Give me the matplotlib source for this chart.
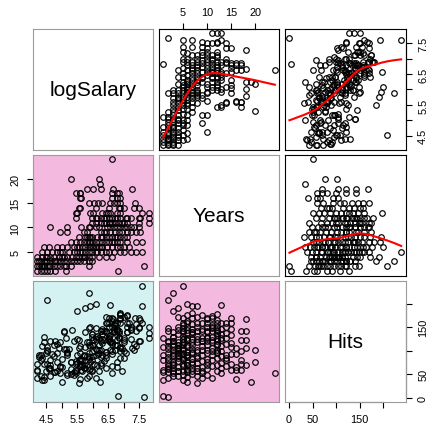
import matplotlib.pyplot as plt
import numpy as np

plt.rcParams['font.family'] = ['Liberation Sans', 'DejaVu Sans']

# Hitters data, grouped by Years
year_values = [1, 2, 3, 4, 5, 6, 7, 8, 9, 10, 11, 12, 13, 14, 15, 16, 17, 18, 19, 20, 24]
year_counts = [8, 17, 20, 21, 25, 24, 20, 17, 15, 17, 15, 18, 12, 9, 9, 5, 6, 5, 1, 2, 1]

log_salary = [
    4.20, 4.31, 4.41, 4.52, 4.63, 4.79, 5.12, 6.82,
    4.20, 4.25, 4.31, 4.41, 4.52, 4.63, 4.74, 4.85, 4.95, 5.06, 5.12, 5.28, 5.87, 7.66, 4.36, 4.58, 4.41,
    4.20, 4.31, 4.41, 4.52, 4.63, 4.74, 4.85, 4.95, 5.06, 5.17, 5.28, 5.38, 5.49, 5.60, 5.71, 5.87, 5.98,
    4.25, 4.47, 4.79,
    4.20, 4.36, 4.52, 4.63, 4.74, 4.90, 5.01, 5.17, 5.33, 5.44, 5.55, 5.65, 5.76, 5.87, 5.98, 6.19, 6.41,
    6.63, 4.47, 5.06, 5.71,
    4.36, 4.52, 4.68, 4.85, 5.01, 5.22, 5.38, 5.49, 5.60, 5.76, 5.87, 5.98, 6.09, 6.25, 6.41, 6.52, 6.68,
    6.89, 7.00, 7.22, 7.38, 7.59, 4.93, 5.65, 6.14,
    4.41, 4.58, 4.85, 5.01, 5.17, 5.38, 5.55, 5.65, 5.76, 5.87, 5.92, 5.98, 6.09, 6.19, 6.30, 6.46, 6.63,
    6.79, 6.89, 7.00, 7.17, 5.49, 6.01, 6.25,
    5.28, 5.44, 5.60, 5.71, 5.82, 5.87, 5.98, 6.09, 6.19, 6.30, 6.52, 6.63, 6.79, 6.89, 7.11, 7.38, 7.60,
    5.92, 6.41, 6.68,
    5.55, 5.76, 5.82, 5.87, 5.92, 6.14, 6.25, 6.41, 6.52, 6.63, 6.79, 6.89, 7.00, 7.11, 5.98, 6.30, 6.73,
    4.93, 5.17, 5.71, 5.82, 6.25, 6.36, 6.41, 6.57, 6.73, 6.84, 6.95, 7.11, 7.22, 7.38, 7.54,
    4.61, 5.17, 5.62, 5.87, 5.92, 6.09, 6.19, 6.46, 6.57, 6.68, 6.79, 6.89, 7.00, 7.11, 7.22, 7.33, 7.49,
    6.09, 6.25, 6.41, 6.52, 6.57, 6.63, 6.73, 6.84, 6.95, 7.11, 7.49, 7.81, 5.98, 6.36, 7.00,
    5.44, 5.98, 6.09, 6.14, 6.36, 6.41, 6.52, 6.73, 6.79, 6.89, 7.06, 7.11, 7.49, 7.54, 7.81, 6.25, 6.63,
    7.22,
    5.44, 5.49, 5.92, 6.01, 6.30, 6.41, 6.50, 6.57, 6.79, 6.89, 7.60, 7.81,
    5.55, 5.60, 6.84, 6.89, 7.33, 7.49, 6.09, 6.52, 7.00,
    5.87, 6.05, 6.16, 6.30, 6.57, 6.70, 6.79, 6.87, 7.35,
    5.58, 5.63, 6.63, 6.79, 6.87,
    5.44, 5.60, 5.60, 6.63, 6.79, 6.86,
    5.80, 6.01, 6.25, 6.65, 7.28,
    6.23,
    5.30, 6.19,
    6.62,
]

hits = [
    60, 92, 37, 109, 81, 54, 128, 4,
    43, 87, 81, 73, 208, 120, 55, 96, 68, 141, 104, 62, 149, 1, 110, 64, 118,
    73, 46, 130, 101, 63, 88, 115, 52, 140, 96, 77, 121, 185, 110, 70, 223, 130, 90, 57, 120,
    58, 84, 99, 47, 113, 105, 65, 91, 145, 78, 106, 57, 190, 119, 135, 113, 172, 150, 95, 104, 88,
    39, 71, 94, 58, 82, 104, 48, 125, 67, 139, 95, 112, 148, 86, 160, 131, 154, 170, 118, 126, 143,
    238, 118, 80, 101,
    45, 62, 77, 33, 98, 54, 122, 70, 109, 86, 150, 60, 200, 127, 92, 138, 163, 145, 177, 122, 158,
    90, 113, 70,
    51, 73, 95, 64, 118, 83, 136, 104, 57, 147, 125, 169, 112, 181, 139, 156, 194, 76, 98, 140,
    32, 63, 88, 47, 195, 132, 75, 97, 150, 119, 141, 84, 172, 160, 57, 125, 101,
    66, 53, 90, 42, 120, 78, 143, 101, 160, 128, 58, 175, 147, 110, 120,
    70, 48, 83, 112, 61, 130, 96, 159, 120, 141, 76, 168, 127, 140, 150, 102, 170,
    43, 141, 92, 169, 118, 67, 155, 130, 105, 174, 149, 150, 80, 123, 100,
    58, 97, 124, 70, 142, 85, 160, 112, 133, 178, 95, 150, 120, 165, 137, 102, 115, 145,
    52, 74, 111, 88, 135, 63, 122, 198, 147, 100, 160, 128,
    81, 68, 137, 158, 115, 150, 92, 128, 84,
    60, 72, 94, 117, 133, 146, 158, 108, 170,
    41, 60, 94, 66, 105,
    60, 71, 80, 100, 122, 142,
    69, 122, 142, 168, 105,
    33,
    76, 101,
    52,
]

years = np.repeat(year_values, year_counts)
variables = {"logSalary": np.array(log_salary), "Years": years.astype(float), "Hits": np.array(hits, float)}
names = ["logSalary", "Years", "Hits"]

ticks = {"logSalary": [4.5, 5, 5.5, 6, 6.5, 7, 7.5], "Years": [5, 10, 15, 20], "Hits": [0, 50, 100, 150, 200]}
tick_labels = {"logSalary": ["4.5", "", "5.5", "", "6.5", "", "7.5"],
               "Years": ["5", "10", "15", "20"],
               "Hits": ["0", "50", "", "150", ""]}

lower_colors = {(1, 0): "#f4b9de", (2, 0): "#d3f2f1", (2, 1): "#f4b9de"}


def lowess(x, y, f=2 / 3, iters=3):
    order = np.argsort(x, kind="stable")
    x = np.asarray(x, float)[order]
    y = np.asarray(y, float)[order]
    n = len(x)
    r = int(np.ceil(f * n))
    robust = np.ones(n)
    fit = np.zeros(n)
    for _ in range(iters + 1):
        for i in range(n):
            d = np.abs(x - x[i])
            h = max(np.sort(d)[r - 1], 1e-12)
            w = np.clip(d / h, 0, 1)
            w = (1 - w ** 3) ** 3 * robust
            xm = np.sum(w * x) / np.sum(w)
            ym = np.sum(w * y) / np.sum(w)
            den = np.sum(w * (x - xm) ** 2)
            b = np.sum(w * (x - xm) * (y - ym)) / den if den > 1e-12 else 0.0
            fit[i] = ym + b * (x[i] - xm)
        res = y - fit
        s = np.median(np.abs(res))
        u = np.clip(res / (6 * s), -1, 1)
        robust = (1 - u ** 2) ** 2
    return x, fit


def limits(v):
    lo, hi = v.min(), v.max()
    pad = 0.04 * (hi - lo)
    return lo - pad, hi + pad


fig = plt.figure(figsize=(4.29, 4.27), dpi=100)
W, H = 429, 427
lefts = [32.7, 158.7, 285.0]
tops = [30.0, 156.0, 282.3]
size = 120.6

for i, yname in enumerate(names):
    for j, xname in enumerate(names):
        ax = fig.add_axes([lefts[j] / W, (H - tops[i] - size) / H, size / W, size / H])
        x = variables[xname]
        y = variables[yname]
        ax.set_xlim(limits(x))
        ax.set_ylim(limits(y))
        ax.set_xticks([])
        ax.set_yticks([])
        border = "black" if j > i else "#9c9c9c"
        for sp in ax.spines.values():
            sp.set_color(border)
            sp.set_linewidth(0.8)

        if i == j:
            ax.text(0.5, 0.5, xname, transform=ax.transAxes, ha="center", va="center", fontsize=15)
        else:
            if (i, j) in lower_colors:
                ax.set_facecolor(lower_colors[(i, j)])
            ax.plot(x, y, "o", ms=4.0, mfc="none", mec="black", mew=0.85)
            if j > i:
                lx, ly = lowess(x, y)
                ax.plot(lx, ly, color="red", lw=1.5)

        # outer axes, alternating sides like R's pairs()
        t = ticks[xname]
        if i == 0 and j % 2 == 1:
            ax.xaxis.tick_top()
            ax.set_xticks(t, tick_labels[xname])
            ax.plot([t[0], t[-1]], [1, 1], color="black", lw=0.8, clip_on=False,
                    transform=ax.get_xaxis_transform())
        if i == 2 and j % 2 == 0:
            ax.set_xticks(t, tick_labels[xname])
            ax.plot([t[0], t[-1]], [0, 0], color="black", lw=0.8, clip_on=False,
                    transform=ax.get_xaxis_transform())
        t = ticks[yname]
        if j == 0 and i % 2 == 1:
            ax.set_yticks(t, tick_labels[yname])
            ax.plot([0, 0], [t[0], t[-1]], color="black", lw=0.8, clip_on=False,
                    transform=ax.get_yaxis_transform())
            plt.setp(ax.get_yticklabels(), rotation=90, va="center")
        if j == 2 and i % 2 == 0:
            ax.yaxis.tick_right()
            ax.set_yticks(t, tick_labels[yname])
            ax.plot([1, 1], [t[0], t[-1]], color="black", lw=0.8, clip_on=False,
                    transform=ax.get_yaxis_transform())
            plt.setp(ax.get_yticklabels(), rotation=90, va="center")
        ax.tick_params(direction="out", length=4, width=0.8, pad=5, labelsize=7.9)

fig.savefig("out.png", dpi=100)
